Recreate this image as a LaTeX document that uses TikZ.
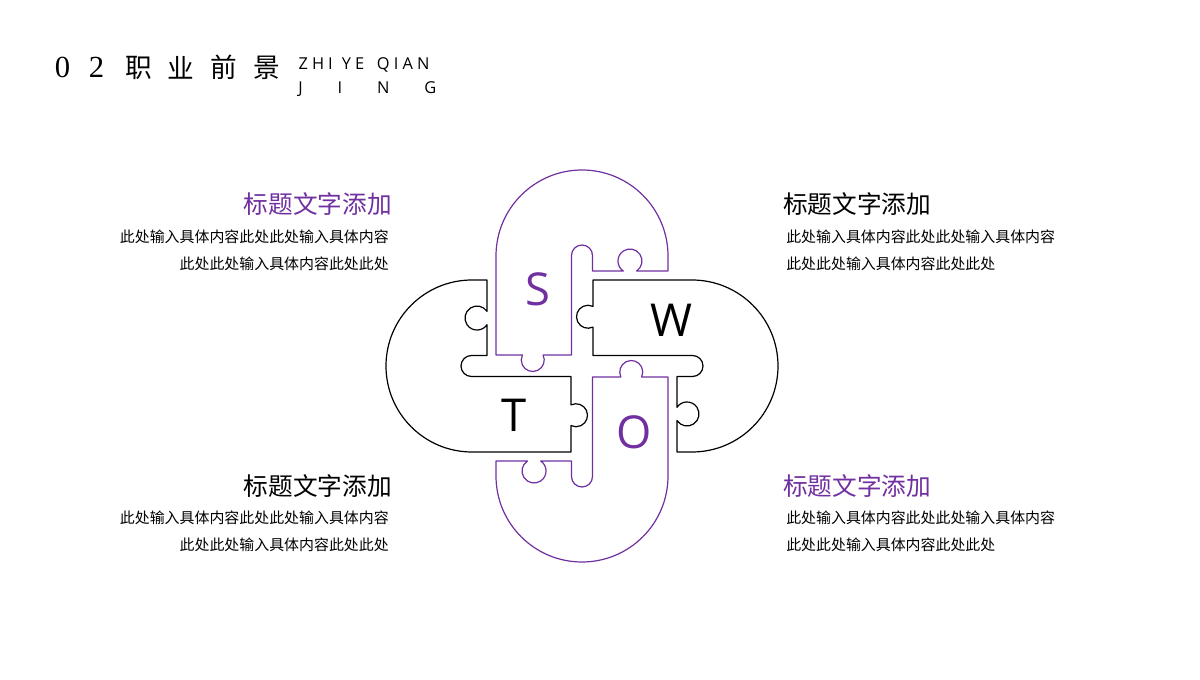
\documentclass[tikz,border=0pt]{standalone}
\usepackage{fontspec}
\setmainfont{Noto Sans CJK SC}
\newfontfamily\lettersf{Open Sans}
\newfontfamily\pinyinsf[LetterSpace=25]{Open Sans}
\newfontfamily\digitsf{Liberation Serif}
\definecolor{swotpurple}{HTML}{7030A0}
% one puzzle piece, #1 colour, #2 rotation about the centre
\newcommand{\swotpiece}[2]{%
  \draw[#1,line width=0.9pt,shift={(582,-366)},rotate=#2] (-86,11) -- (-86,110)
    arc[start angle=180,end angle=0,radius=86] -- (86,95) -- (54.6,95)
    arc[start angle=-56.4,end angle=236.4,radius=12] -- (10.5,95) -- (10.5,110.5)
    arc[start angle=0,end angle=180,radius=10.5] -- (-10.5,11) -- (-38.9,11)
    arc[start angle=25.7,end angle=-205.7,radius=11.5] -- cycle;}

\begin{document}
\begin{tikzpicture}[line cap=round,line join=round,x=0.75pt,y=0.75pt,
    title/.style={font=\fontsize{18.5}{20}\selectfont,inner sep=0pt},
    body/.style={font=\fontsize{11.2}{13}\selectfont,inner sep=0pt},
    letter/.style={font=\lettersf\fontsize{34}{36}\selectfont,inner sep=0pt},
    head/.style={font=\fontsize{20}{22}\selectfont,inner sep=0pt},
    pinyin/.style={anchor=base west,inner sep=0pt,font=\pinyinsf\fontsize{12.3}{14}\selectfont}]
  \useasboundingbox (0,0) rectangle (1200,-680);
  % header
  \draw (62.5,-67.5) node[head,font=\digitsf\fontsize{23}{23}\selectfont] (h1) {0};
  \draw (96.5,-67.5) node[head,font=\digitsf\fontsize{23}{23}\selectfont] (h2) {2};
  \foreach \c/\x [count=\i from 3] in {职/139,业/180.5,前/224,景/266.5}
    \draw (\x,-67.5) node[head] (h\i) {\c};
  \draw (298.3,-70) node[pinyin] (pyZhi) {ZHI};
  \draw (341.7,-70) node[pinyin] (pyYe) {YE};
  \draw (376.7,-70) node[pinyin] (pyQian) {QIAN};
  \draw (298,-93.3) node[anchor=base west,inner sep=0pt,font=\lettersf\fontsize{12.3}{14}\selectfont] (pyJing) {\makebox[103.5pt][s]{J\hfill I\hfill N\hfill G}};
  % puzzle
  \swotpiece{swotpurple}{0}
  \swotpiece{black}{-90}
  \swotpiece{swotpurple}{180}
  \swotpiece{black}{90}
  \draw (537.5,-289) node[letter,text=swotpurple] (S) {S};
  \draw (671,-320) node[letter] (W) {W};
  \draw (514,-415) node[letter] (T) {T};
  \draw (634,-432.5) node[letter,text=swotpurple] (O) {O};
  % texts
  \draw (392,-204) node[title,anchor=east,text=swotpurple] (tlTitle) {标题文字添加};
  \draw (389,-237) node[body,anchor=east] (tlA) {此处输入具体内容此处此处输入具体内容};
  \draw (389,-264) node[body,anchor=east] (tlB) {此处此处输入具体内容此处此处};
  \draw (783,-204) node[title,anchor=west] (trTitle) {标题文字添加};
  \draw (786,-237) node[body,anchor=west] (trA) {此处输入具体内容此处此处输入具体内容};
  \draw (786,-264) node[body,anchor=west] (trB) {此处此处输入具体内容此处此处};
  \draw (392,-486) node[title,anchor=east] (blTitle) {标题文字添加};
  \draw (389,-518) node[body,anchor=east] (blA) {此处输入具体内容此处此处输入具体内容};
  \draw (389,-545) node[body,anchor=east] (blB) {此处此处输入具体内容此处此处};
  \draw (783,-486) node[title,anchor=west,text=swotpurple] (brTitle) {标题文字添加};
  \draw (786,-518) node[body,anchor=west] (brA) {此处输入具体内容此处此处输入具体内容};
  \draw (786,-545) node[body,anchor=west] (brB) {此处此处输入具体内容此处此处};
\end{tikzpicture}
\end{document}
